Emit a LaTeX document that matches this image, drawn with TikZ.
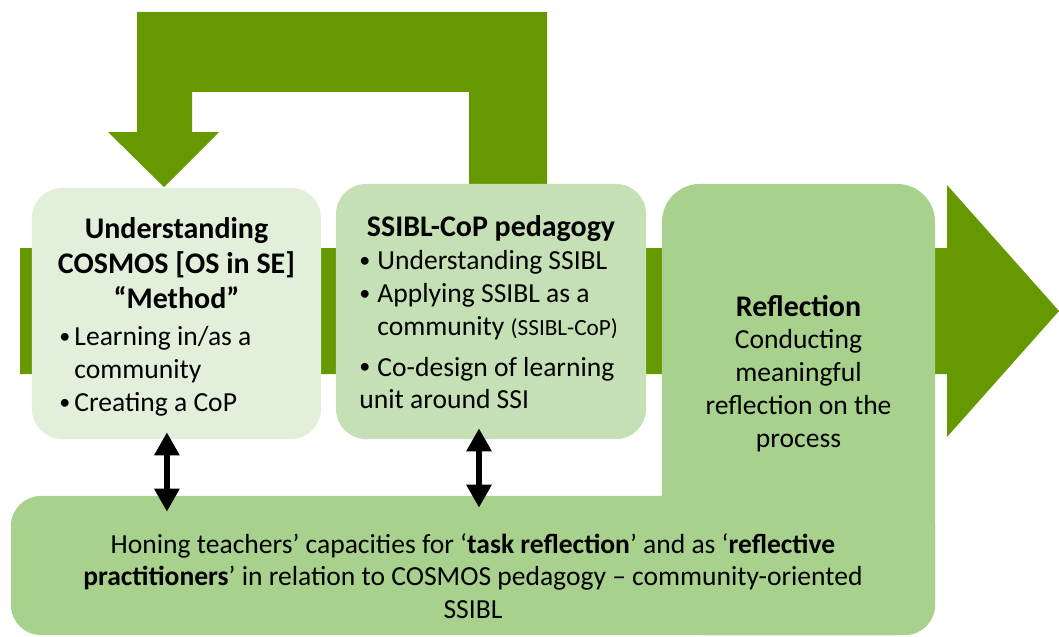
\documentclass[tikz,border=0pt]{standalone}
\usepackage{fontspec}
\setmainfont{Carlito}
\usetikzlibrary{arrows.meta,positioning}

\definecolor{arrowgreen}{HTML}{669900}
\definecolor{paleGreen}{HTML}{E2EFDA}
\definecolor{midGreen}{HTML}{C5E0B4}
\definecolor{deepGreen}{HTML}{A9D18E}

% bullet line with hanging indent
\newcommand{\bul}[2][0.4cm]{\par\hangindent=#1\hangafter=1\noindent
  \makebox[#1][l]{\raisebox{0.08em}{\scalebox{0.8}{\textbullet}}}#2}
\newcommand{\headfont}{\fontsize{21.3pt}{24.8pt}\selectfont\bfseries}

\begin{document}
\begin{tikzpicture}[x=0.025cm, y=-0.025cm,
    every node/.style={font=\fontsize{19.6pt}{23.3pt}\selectfont, inner sep=0pt},
    stage/.style={rectangle, rounded corners=0.75cm},
    words/.style={align=flush left},
    dblarrow/.style={line width=0.15cm,
      {Triangle[width=0.6cm,length=0.575cm]}-{Triangle[width=0.6cm,length=0.575cm]}}]
  \useasboundingbox (0,0) rectangle (1059,637);

  % main process arrow
  \fill[arrowgreen] (20,248) -- (947,248) -- (947,185) -- (1059,311)
    -- (947,437) -- (947,374) -- (20,374) -- cycle;
  % feedback loop back to the start
  \fill[arrowgreen] (469,200) -- (469,92) -- (192,92) -- (192,132) -- (219,132)
    -- (164,187) -- (108,132) -- (137,132) -- (137,12) -- (547,12) -- (547,200) -- cycle;

  % stages
  \node[stage, fill=paleGreen, minimum width=7.225cm, minimum height=6.275cm] (cosmos) at (176.5,313.5) {};
  \node[stage, fill=midGreen, minimum width=7.75cm, minimum height=6.375cm] (ssibl) at (491,311.5) {};
  \node[stage, fill=deepGreen, rounded corners=0.95cm, minimum width=6.825cm, minimum height=11.275cm] (refl) at (798.5,409.5) {};
  \node[stage, fill=deepGreen, minimum width=23.1cm, minimum height=3.475cm] (honing) at (473,565.5) {};

  \node[words, text width=5.85cm, below=0.74cm of cosmos.north] (cosmostext)
    {{\centering\headfont Understanding\\ \makebox[\linewidth][c]{COSMOS [OS in SE]}\\ “Method”\par}
     \vspace{0.12cm}
     \bul[0.375cm]{Learning in/as a\newline community}
     \bul[0.375cm]{Creating a CoP}};
  \node[words, text width=6.575cm, below=0.8cm of ssibl.north] (ssibltext)
    {{\centering\headfont SSIBL-CoP pedagogy\par}
     \bul[0.45cm]{Understanding SSIBL}
     \bul[0.45cm]{Applying SSIBL as a\newline community {\fontsize{16.5pt}{23.3pt}\selectfont(SSIBL-CoP)}}\par
     \vspace{0.2cm}
     \bul[0.45cm]{Co-design of learning\newline unit around SSI}};
  \node[align=center, below=2.78cm of refl.north] (refltext)
    {{\headfont Reflection}\\ Conducting\\ meaningful\\ reflection on the\\ process};
  \node[align=center, below=0.93cm of honing.north] (honingtext)
    {Honing teachers’ capacities for ‘\textbf{task reflection}’ and as ‘\textbf{reflective}\\
     \textbf{practitioners}’ in relation to COSMOS pedagogy – community-oriented\\
     SSIBL};

  % links to the bottom stage
  \draw[dblarrow, shorten <=-0.175cm, shorten >=-0.4cm]
    ([xshift=-0.24cm]cosmos.south) -- ([xshift=-0.24cm]cosmos.south |- honing.north);
  \draw[dblarrow, shorten <=-0.275cm, shorten >=-0.3cm]
    ([xshift=-0.3cm]ssibl.south) -- ([xshift=-0.3cm]ssibl.south |- honing.north);
\end{tikzpicture}
\end{document}
